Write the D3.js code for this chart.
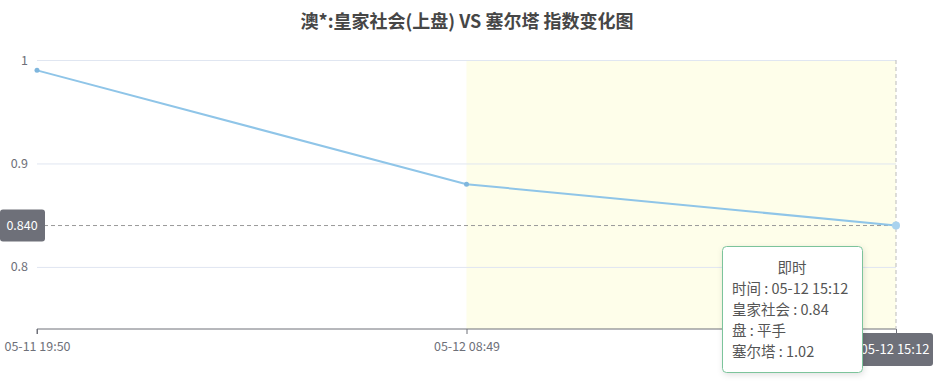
<!DOCTYPE html>
<html><head><meta charset="utf-8">
<script src="https://cdn.jsdelivr.net/npm/d3@7/dist/d3.min.js"></script>
<style>
html,body{margin:0;padding:0;background:#fff;}
body{width:937px;height:387px;overflow:hidden;font-family:"Noto Sans CJK SC","Noto Sans",sans-serif;}
</style></head>
<body>
<svg id="c" width="937" height="387"></svg>
<script>
const title = "澳*:皇家社会(上盘) VS 塞尔塔 指数变化图";
const categories = ["05-11 19:50", "05-12 08:49", "05-12 15:12"];
const homeValues = [0.99, 0.88, 0.84];
const handicap = ["平手", "平手", "平手"];
const awayValues = [0.86, 0.98, 1.02];
const yTicks = [0.8, 0.9, 1];
const yDomain = [0.74, 1.0];
const highlightFrom = 1; // band starts at this category
const activeIndex = 2;
const tooltipTitle = "即时";

const svg = d3.select("#c");
const F = '"Noto Sans CJK SC","Noto Sans",sans-serif';
const margin = {left:37, right:41, top:60, bottom:58};
const W = 937, H = 387;
const x = d3.scalePoint().domain(categories).range([margin.left, W - margin.right]);
const y = d3.scaleLinear().domain(yDomain).range([H - margin.bottom, margin.top]);

const defs = svg.append("defs");
const fl = defs.append("filter").attr("id","ttshadow").attr("x","-20%").attr("y","-20%").attr("width","140%").attr("height","140%");
fl.append("feDropShadow").attr("dx",1).attr("dy",2).attr("stdDeviation",3).attr("flood-color","#000").attr("flood-opacity",0.12);

// title
svg.append("text").attr("x", 467).attr("y", 28).attr("text-anchor","middle")
  .attr("font-family",F).attr("font-size",18).attr("font-weight","bold").attr("fill","#464646").text(title);

// highlight band
svg.append("rect").attr("x", x(categories[highlightFrom])).attr("y", y(yDomain[1]))
  .attr("width", x(categories[categories.length-1]) - x(categories[highlightFrom]))
  .attr("height", y(yDomain[0]) - y(yDomain[1])).attr("fill","#fefeea");

// grid lines
const gy = svg.append("g").attr("transform",`translate(${margin.left},0)`)
  .call(d3.axisLeft(y).tickValues(yTicks).tickSize(-(W-margin.left-margin.right)).tickFormat(d3.format("")).tickPadding(9));
gy.select(".domain").remove();
gy.selectAll(".tick line").attr("stroke","#e0e6f1");
gy.selectAll(".tick text").attr("fill","#6e7079").attr("font-family",F).attr("font-size",12.5);

// x axis
const gx = svg.append("g").attr("transform",`translate(0,${y(yDomain[0])})`)
  .call(d3.axisBottom(x).tickSize(5).tickPadding(8));
gx.select(".domain").attr("stroke","#6e7079").attr("d", `M${margin.left},5V0H${W-margin.right}`);
gx.selectAll(".tick line").attr("stroke","#6e7079");
gx.selectAll(".tick text").attr("fill","#6e7079").attr("font-family",F).attr("font-size",12.5);
// the active tick label is covered by the axis-pointer label
gx.selectAll(".tick").filter((d,i)=>i===activeIndex).select("text").remove();

// crosshair
const ax = x(categories[activeIndex]), ay = y(homeValues[activeIndex]);
svg.append("line").attr("x1",margin.left).attr("x2",ax).attr("y1",ay).attr("y2",ay)
  .attr("stroke","#999").attr("stroke-dasharray","4,3");
svg.append("line").attr("x1",ax).attr("x2",ax).attr("y1",y(yDomain[1])).attr("y2",y(yDomain[0]))
  .attr("stroke","#bbb").attr("stroke-dasharray","4,3");

// line
const line = d3.line().x((d,i)=>x(categories[i])).y(d=>y(d));
svg.append("path").datum(homeValues).attr("d",line).attr("fill","none")
  .attr("stroke","#8fc5e8").attr("stroke-width",2);
svg.selectAll("circle.pt").data(homeValues).enter().append("circle").attr("class","pt")
  .attr("cx",(d,i)=>x(categories[i])).attr("cy",d=>y(d)).attr("r",(d,i)=>i===activeIndex?4:2.5)
  .attr("fill",(d,i)=>i===activeIndex?"#a9d3ee":"#7fb6dd");

// y axis pointer label
const yl = svg.append("g");
yl.append("rect").attr("x",0).attr("y",ay-16).attr("width",45).attr("height",32).attr("rx",3).attr("fill","#6e7079");
yl.append("text").attr("x",22).attr("y",ay+4.5).attr("text-anchor","middle").attr("fill","#fff")
  .attr("font-family",F).attr("font-size",12.5).text(d3.format(".3f")(homeValues[activeIndex]));

// x axis pointer label
const xl = svg.append("g");
xl.append("rect").attr("x",ax-36).attr("y",y(yDomain[0])+4).attr("width",73).attr("height",33).attr("rx",3).attr("fill","#6e7079");
xl.append("text").attr("x",ax-1).attr("y",y(yDomain[0])+25).attr("text-anchor","middle").attr("fill","#fff")
  .attr("font-family",F).attr("font-size",13).text(categories[activeIndex]);

// tooltip
const tt = svg.append("g").attr("transform","translate(722,246)");
tt.append("rect").attr("x",0.5).attr("y",0.5).attr("width",140).attr("height",126).attr("rx",4)
  .attr("fill","#fff").attr("stroke","#7cc49b").attr("stroke-width",1).attr("filter","url(#ttshadow)");
const lines = [
  `时间 : ${categories[activeIndex]}`,
  `皇家社会 : ${homeValues[activeIndex]}`,
  `盘 : ${handicap[activeIndex]}`,
  `塞尔塔 : ${awayValues[activeIndex]}`
];
tt.append("text").attr("x",70).attr("y",27).attr("text-anchor","middle").attr("fill","#555")
  .attr("font-family",F).attr("font-size",14.5).text(tooltipTitle);
lines.forEach((t,i)=>{
  tt.append("text").attr("x",10).attr("y",48+i*21).attr("fill","#555")
    .attr("font-family",F).attr("font-size",14.5).text(t);
});
</script>
</body></html>
